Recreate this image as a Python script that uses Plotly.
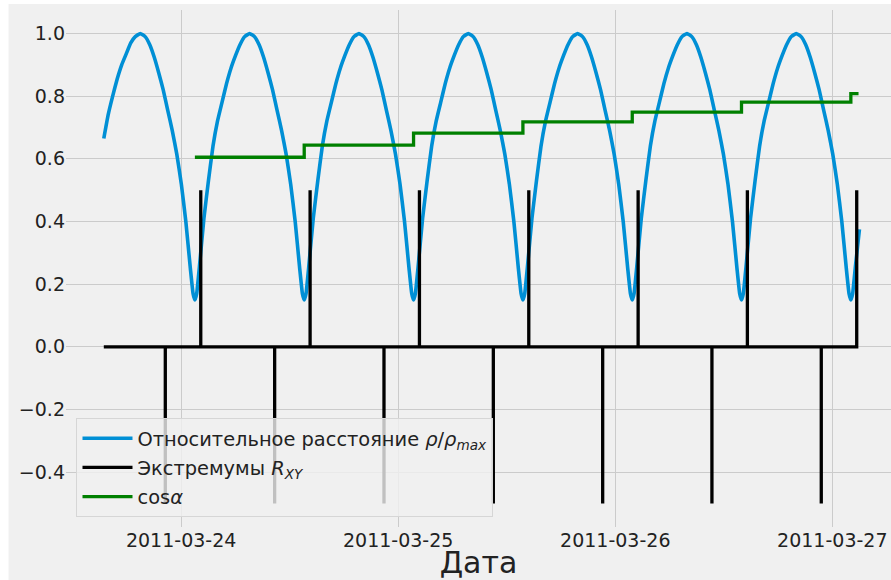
import pandas as pd
import plotly.graph_objects as go

BASE = pd.Timestamp("2011-03-24 00:00")

# ---- Data (hours relative to 2011-03-24 00:00) ----
rho_hours = [
    -8.55, -8.07, -7.57, -7.07, -6.57, -6.07, -5.57, -5.07, -4.52,
    -3.98, -3.48, -2.98, -2.48, -1.98, -1.48, -0.98, -0.48, 0.02, 0.52, 1.02, 1.32, 1.52,
    1.72, 2.02, 2.52, 3.02, 3.52, 4.02, 4.52, 5.02, 5.52, 6.02, 6.52, 7.02, 7.57,
    8.11, 8.61, 9.11, 9.61, 10.11, 10.61, 11.11, 11.61, 12.11, 12.61, 13.11, 13.41, 13.61,
    13.81, 14.11, 14.61, 15.11, 15.61, 16.11, 16.61, 17.11, 17.61, 18.11, 18.61, 19.11, 19.66,
    20.20, 20.70, 21.20, 21.70, 22.20, 22.70, 23.20, 23.70, 24.20, 24.70, 25.20, 25.50, 25.70,
    25.90, 26.20, 26.70, 27.20, 27.70, 28.20, 28.70, 29.20, 29.70, 30.20, 30.70, 31.20, 31.75,
    32.29, 32.79, 33.29, 33.79, 34.29, 34.79, 35.29, 35.79, 36.29, 36.79, 37.29, 37.59, 37.79,
    37.99, 38.29, 38.79, 39.29, 39.79, 40.29, 40.79, 41.29, 41.79, 42.29, 42.79, 43.29, 43.84,
    44.38, 44.88, 45.38, 45.88, 46.38, 46.88, 47.38, 47.88, 48.38, 48.88, 49.38, 49.68, 49.88,
    50.08, 50.38, 50.88, 51.38, 51.88, 52.38, 52.88, 53.38, 53.88, 54.38, 54.88, 55.38, 55.93,
    56.46, 56.96, 57.46, 57.96, 58.46, 58.96, 59.46, 59.96, 60.46, 60.96, 61.46, 61.76, 61.96,
    62.16, 62.46, 62.96, 63.46, 63.96, 64.46, 64.96, 65.46, 65.96, 66.46, 66.96, 67.46, 68.01,
    68.55, 69.05, 69.55, 70.05, 70.55, 71.05, 71.55, 72.05, 72.55, 73.05, 73.55, 73.85, 74.05,
    74.25, 74.55, 75.00,
]
rho_values = [
    0.665, 0.74, 0.80, 0.855, 0.90, 0.935, 0.97, 0.99, 1.00,
    0.99, 0.965, 0.925, 0.875, 0.82, 0.755, 0.69, 0.615, 0.52, 0.40, 0.25, 0.17, 0.15,
    0.17, 0.255, 0.41, 0.53, 0.64, 0.72, 0.78, 0.84, 0.89, 0.93, 0.965, 0.99, 1.00,
    0.99, 0.965, 0.925, 0.875, 0.82, 0.755, 0.69, 0.615, 0.52, 0.40, 0.25, 0.17, 0.15,
    0.17, 0.255, 0.41, 0.53, 0.64, 0.72, 0.78, 0.84, 0.89, 0.93, 0.965, 0.99, 1.00,
    0.99, 0.965, 0.925, 0.875, 0.82, 0.755, 0.69, 0.615, 0.52, 0.40, 0.25, 0.17, 0.15,
    0.17, 0.255, 0.41, 0.53, 0.64, 0.72, 0.78, 0.84, 0.89, 0.93, 0.965, 0.99, 1.00,
    0.99, 0.965, 0.925, 0.875, 0.82, 0.755, 0.69, 0.615, 0.52, 0.40, 0.25, 0.17, 0.15,
    0.17, 0.255, 0.41, 0.53, 0.64, 0.72, 0.78, 0.84, 0.89, 0.93, 0.965, 0.99, 1.00,
    0.99, 0.965, 0.925, 0.875, 0.82, 0.755, 0.69, 0.615, 0.52, 0.40, 0.25, 0.17, 0.15,
    0.17, 0.255, 0.41, 0.53, 0.64, 0.72, 0.78, 0.84, 0.89, 0.93, 0.965, 0.99, 1.00,
    0.99, 0.965, 0.925, 0.875, 0.82, 0.755, 0.69, 0.615, 0.52, 0.40, 0.25, 0.17, 0.15,
    0.17, 0.255, 0.41, 0.53, 0.64, 0.72, 0.78, 0.84, 0.89, 0.93, 0.965, 0.99, 1.00,
    0.99, 0.965, 0.925, 0.875, 0.82, 0.755, 0.69, 0.615, 0.52, 0.40, 0.25, 0.17, 0.15,
    0.17, 0.255, 0.375,
]

rxy_start_hour = -8.55
rxy_max_hours = [2.17, 14.26, 26.35, 38.44, 50.53, 62.61, 74.70]
rxy_min_hours = [-1.75, 10.34, 22.43, 34.52, 46.61, 58.69, 70.78]
rxy_max_value = 0.5
rxy_min_value = -0.5

cos_hours = [1.52, 13.61, 25.70, 37.79, 49.88, 61.96, 74.05, 74.90]
cos_values = [0.605, 0.644, 0.682, 0.718, 0.749, 0.781, 0.808, 0.808]

y_ticks = [-0.4, -0.2, 0.0, 0.2, 0.4, 0.6, 0.8, 1.0]
x_tick_dates = ["2011-03-24", "2011-03-25", "2011-03-26", "2011-03-27"]


def to_dt(hours):
    return list(BASE + pd.to_timedelta(hours, unit="h"))


# Build the spike series for R_XY
events = sorted([(h, rxy_max_value) for h in rxy_max_hours] +
                [(h, rxy_min_value) for h in rxy_min_hours])
rx_h, rx_v = [rxy_start_hour], [0.0]
for i, (h, v) in enumerate(events):
    rx_h += [h, h]
    rx_v += [0.0, v]
    if i < len(events) - 1:
        rx_h.append(h)
        rx_v.append(0.0)

BLUE = "#008fd5"
GREEN = "#008000"
BG = "#f0f0f0"
GRID = "#cbcbcb"
TXT = "#222222"
FONT = "DejaVu Sans"
FS = 19

fig = go.Figure()
fig.add_trace(go.Scatter(
    x=to_dt(rho_hours), y=rho_values, mode="lines",
    line=dict(color=BLUE, width=3.6, shape="spline", smoothing=0.35),
    name="Относительное расстояние <i>ρ</i>/<i>ρ</i><sub><i>max</i></sub>",
    legendgroup="a",
))
fig.add_trace(go.Scatter(
    x=to_dt(rx_h), y=rx_v, mode="lines",
    line=dict(color="#000000", width=3.3),
    name="Экстремумы <i>R</i><sub><i>XY</i></sub>",
    legendgroup="b",
))
fig.add_trace(go.Scatter(
    x=to_dt(cos_hours), y=cos_values, mode="lines",
    line=dict(color=GREEN, width=3.3, shape="hv"),
    name="cos<i>α</i>",
    legendgroup="c",
))

W, H = 891, 580
ml, mr, mt, mb = 65.5, 0, 10, 53.4
pw, ph = W - ml - mr, H - mt - mb

fig.update_layout(
    width=W, height=H,
    margin=dict(l=ml, r=mr, t=mt, b=mb, pad=0),
    paper_bgcolor="white",
    plot_bgcolor=BG,
    font=dict(family=FONT, size=FS, color=TXT),
    showlegend=True,
    legend=dict(
        x=(76 - ml) / pw, y=(mt + ph - 516.7) / ph,
        xanchor="left", yanchor="bottom",
        bgcolor="rgba(240,240,240,0.8)",
        bordercolor="#d6d6d6", borderwidth=1,
        font=dict(family=FONT, size=19.4, color=TXT),
        tracegroupgap=1,
        itemwidth=50,
    ),
    xaxis=dict(
        type="date",
        range=[BASE + pd.to_timedelta(-12.73, unit="h"),
               BASE + pd.to_timedelta(78.49, unit="h")],
        tickvals=x_tick_dates,
        ticktext=x_tick_dates,
        showgrid=True, gridcolor=GRID, gridwidth=1,
        zeroline=False, showline=False, ticks="",
        tickfont=dict(family=FONT, size=FS, color=TXT),
        title=dict(text="Дата", font=dict(family=FONT, size=30, color=TXT), standoff=0),
        automargin=False,
    ),
    yaxis=dict(
        range=[-0.575, 1.075],
        tickvals=y_ticks,
        tickformat=".1f",
        showgrid=True, gridcolor=GRID, gridwidth=1,
        zeroline=False, showline=False, ticks="",
        tickfont=dict(family=FONT, size=FS, color=TXT),
        automargin=False,
    ),
    shapes=[dict(
        type="rect", xref="paper", yref="paper", layer="below",
        x0=(8 - ml) / pw, x1=1.02,
        y0=-(mb + 5) / ph, y1=(mt + ph - 4) / ph,
        fillcolor=BG, line=dict(width=0),
    )],
)

fig.write_html(
    "out.html",
    config={"displayModeBar": False},
    post_script="document.body.style.margin='0';document.body.style.overflow='hidden';",
)
